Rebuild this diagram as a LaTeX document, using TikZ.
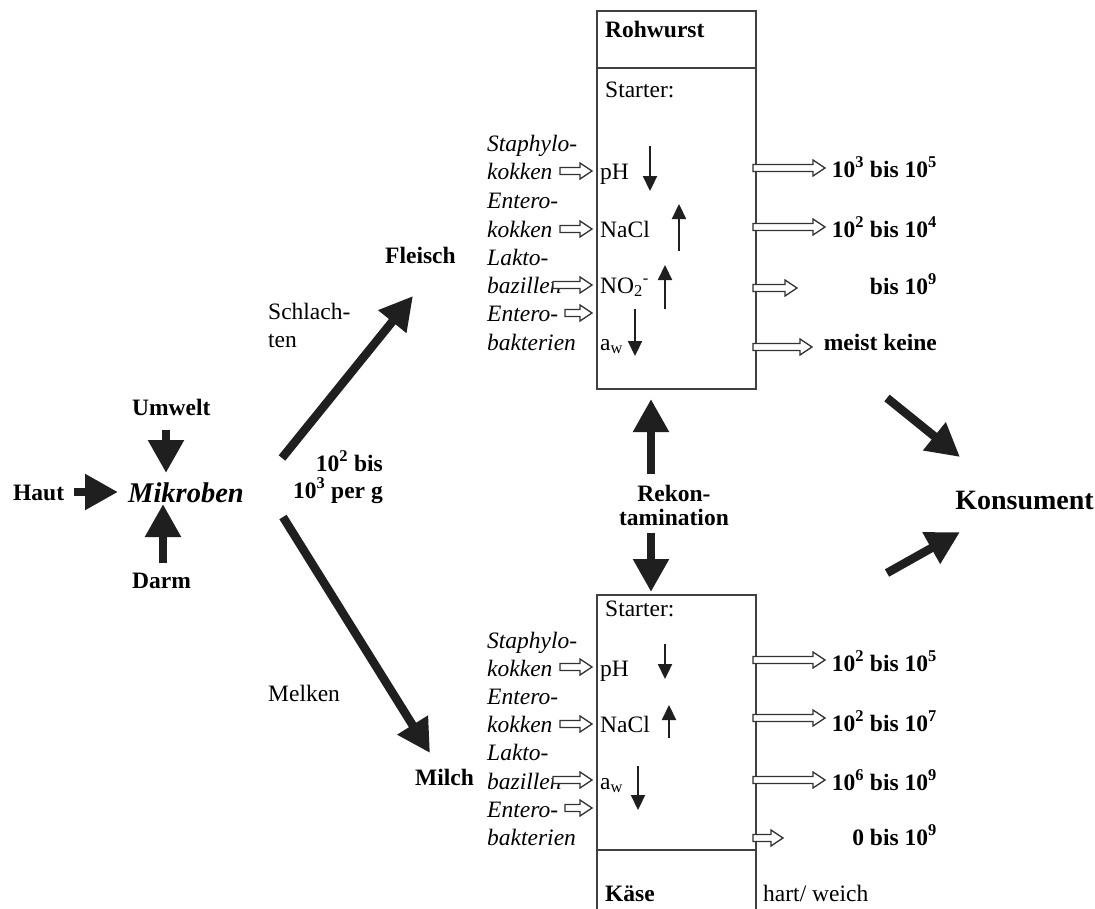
\documentclass[tikz,border=0pt]{standalone}
\usepackage{fontspec}
\setmainfont{Liberation Serif}
\usetikzlibrary{arrows.meta}
\tikzset{
  pics/harr/.style={code={
    \draw[line width=1.3pt, draw=black!80, fill=white, line join=miter]
      (0,-3.5) -- (#1-12,-3.5) -- (#1-12,-8) -- (#1,0) -- (#1-12,8) -- (#1-12,3.5) -- (0,3.5) -- cycle;}},
  txt/.style={anchor=base west, inner sep=0pt, font=\fontsize{23.5}{28}\selectfont},
  txtr/.style={anchor=base east, inner sep=0pt, font=\fontsize{23.5}{28}\selectfont\bfseries},
  bld/.style={anchor=base west, inner sep=0pt, font=\fontsize{23.5}{28}\selectfont\bfseries},
  itl/.style={anchor=base west, inner sep=0pt, font=\fontsize{23.5}{28}\selectfont\itshape},
  big/.style={line width=8.5pt, draw=black!88, -{Triangle[length=33pt,width=34pt]}},
  small/.style={line width=2.2pt, draw=black!88, -{Triangle[length=15pt,width=14pt]}},
  boxline/.style={draw=black!75, line width=1.5pt}
}
\begin{document}
\begin{tikzpicture}[x=1pt,y=-1pt]
\path[use as bounding box, fill=white] (0,0) rectangle (1095,908);

% ---------- boxes ----------
\node[boxline, anchor=north west, minimum width=159pt, minimum height=378pt, inner sep=0pt] (topbox) at (596,10) {};
\draw[boxline] (596,68) -- (755,68);
\node[boxline, anchor=north west, minimum width=159pt, minimum height=330pt, inner sep=0pt] (botbox) at (596,594) {};
\draw[boxline] (596,850) -- (755,850);

% ---------- top box content ----------
\node[bld] (rohwurst) at (605,37) {Rohwurst};
\node[txt] (starter1) at (605,97) {Starter:};
\node[itl] (t1a) at (487,151) {Staphylo-};
\node[itl] (t1b) at (487,179) {kokken};
\node[itl] (t2a) at (487,208) {Entero-};
\node[itl] (t2b) at (487,237) {kokken};
\node[itl] (t3a) at (487,265) {Lakto-};
\node[itl] (t3b) at (487,293) {bazillen};
\node[itl] (t4a) at (487,321) {Entero-};
\node[itl] (t4b) at (487,350) {bakterien};
\node[txt] (ph1) at (600,179) {pH};
\node[txt] (nacl1) at (600,237) {NaCl};
\node[txt] (no21) at (600,293) {NO\textsubscript{2}\textsuperscript{-}};
\node[txt] (aw1) at (600,350) {a\textsubscript{w}};

\pic at (560,171) {harr=32};
\pic at (560,229) {harr=32};
\pic at (553,285) {harr=39};
\pic at (565,313) {harr=27};

\draw[small] (650,146) -- (650,191);
\draw[small] (679,251) -- (679,204);
\draw[small] (665,309) -- (665,265);
\draw[small] (635,309) -- (635,356);

\pic at (753,168) {harr=72};
\pic at (753,227) {harr=72};
\pic at (753,288) {harr=44};
\pic at (753,347) {harr=59};

\node[txtr] (r1) at (937,177) {10\textsuperscript{3} bis 10\textsuperscript{5}};
\node[txtr] (r2) at (937,237) {10\textsuperscript{2} bis 10\textsuperscript{4}};
\node[txtr] (r3) at (937,294) {bis 10\textsuperscript{9}};
\node[txtr] (r4) at (937,350) {meist keine};

% ---------- bottom box content ----------
\node[txt] (starter2) at (605,616) {Starter:};
\node[itl] (b1a) at (487,648) {Staphylo-};
\node[itl] (b1b) at (487,676) {kokken};
\node[itl] (b2a) at (487,704) {Entero-};
\node[itl] (b2b) at (487,732) {kokken};
\node[itl] (b3a) at (487,760) {Lakto-};
\node[itl] (b3b) at (487,789) {bazillen};
\node[itl] (b4a) at (487,817) {Entero-};
\node[itl] (b4b) at (487,845) {bakterien};
\node[txt] (ph2) at (600,676) {pH};
\node[txt] (nacl2) at (600,732) {NaCl};
\node[txt] (aw2) at (600,789) {a\textsubscript{w}};
\node[bld] (kaese) at (605,901) {Käse};
\node[txt] (hart) at (763,901) {hart/ weich};

\pic at (560,667) {harr=32};
\pic at (560,724) {harr=32};
\pic at (553,780) {harr=39};
\pic at (565,808) {harr=27};

\draw[small] (665,644) -- (665,679);
\draw[small] (669,738) -- (669,705);
\draw[small] (638,766) -- (638,810);

\pic at (753,660) {harr=72};
\pic at (753,718) {harr=72};
\pic at (753,780) {harr=72};
\pic at (753,838) {harr=30};

\node[txtr] (s1) at (937,671) {10\textsuperscript{2} bis 10\textsuperscript{5}};
\node[txtr] (s2) at (937,731) {10\textsuperscript{2} bis 10\textsuperscript{7}};
\node[txtr] (s3) at (937,790) {10\textsuperscript{6} bis 10\textsuperscript{9}};
\node[txtr] (s4) at (937,845) {0 bis 10\textsuperscript{9}};

% ---------- left part ----------
\node[bld] (haut) at (13,500) {Haut};
\node[anchor=base west, inner sep=0pt, font=\fontsize{28.5}{31}\selectfont\bfseries\itshape] (mik) at (128,502) {Mikroben};
\node[bld] (umwelt) at (132,415) {Umwelt};
\node[bld] (darm) at (132,588) {Darm};
\node[bld] (fleisch) at (385,263) {Fleisch};
\node[txt] (schl1) at (268,319) {Schlach-};
\node[txt] (schl2) at (268,347) {ten};
\node[txtr] (n1) at (383,471) {10\textsuperscript{2} bis};
\node[txtr] (n2) at (383,498) {10\textsuperscript{3} per g};
\node[txt] (melken) at (268,701) {Melken};
\node[bld] (milch) at (415,785) {Milch};
\node[anchor=base, inner sep=0pt, font=\fontsize{23.5}{28}\selectfont\bfseries] (rek1) at (674,501) {Rekon-};
\node[anchor=base, inner sep=0pt, font=\fontsize{23.5}{28}\selectfont\bfseries] (rek2) at (674,525) {tamination};
\node[anchor=base east, inner sep=0pt, font=\fontsize{28}{31}\selectfont\bfseries] (kons) at (1094,509) {Konsument};

% ---------- big arrows ----------
\coordinate (hautS) at (74,492);   \coordinate (hautE) at (118,492);
\coordinate (umwS) at (166,430);   \coordinate (umwE) at (166,473);
\coordinate (darmS) at (163,563);  \coordinate (darmE) at (163,504);
\coordinate (flS) at (282,458);    \coordinate (flE) at (413,296);
\coordinate (miS) at (283,517);    \coordinate (miE) at (430,753);
\coordinate (k1S) at (887,398);    \coordinate (k1E) at (960,457);
\coordinate (k2S) at (887,573);    \coordinate (k2E) at (960,532);
\coordinate (rkUS) at (651,474);   \coordinate (rkUE) at (651,399);
\coordinate (rkDS) at (651,533);   \coordinate (rkDE) at (651,592);

\draw[big] (hautS) -- (hautE);
\draw[big] (umwS) -- (umwE);
\draw[big] (darmS) -- (darmE);
\draw[big] (flS) -- (flE);
\draw[big] (miS) -- (miE);
\draw[big] (k1S) -- (k1E);
\draw[big] (k2S) -- (k2E);
\draw[big] (rkUS) -- (rkUE);
\draw[big] (rkDS) -- (rkDE);
\end{tikzpicture}
\end{document}
